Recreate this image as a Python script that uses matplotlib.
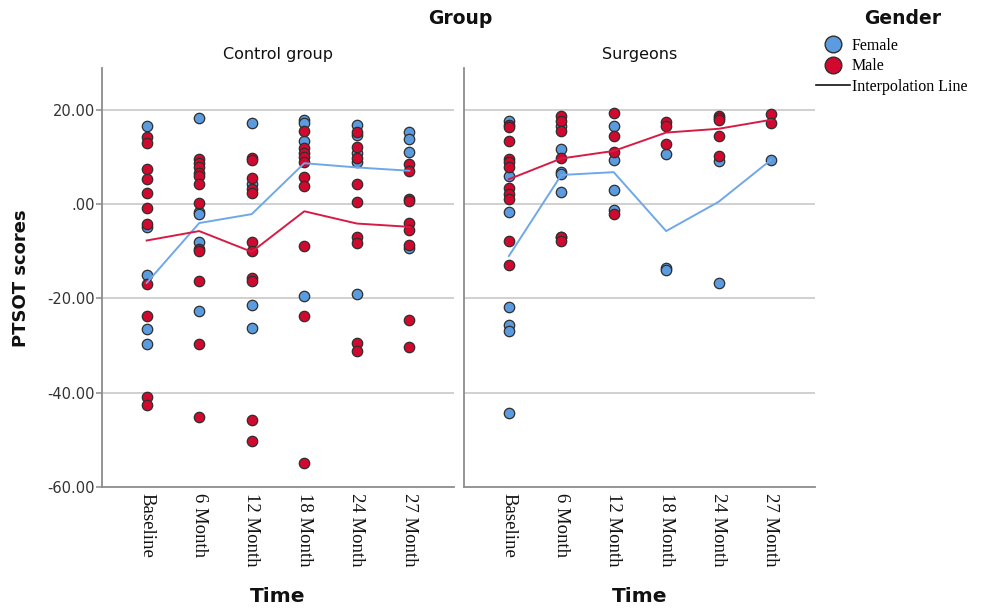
import matplotlib
matplotlib.use("Agg")
import matplotlib.pyplot as plt
from matplotlib.lines import Line2D

# ---- data -------------------------------------------------------------
time_points = ["Baseline", "6 Month", "12 Month", "18 Month", "24 Month", "27 Month"]
y_ticks = [20, 0, -20, -40, -60]
y_tick_labels = ["20.00", ".00", "-20.00", "-40.00", "-60.00"]

control_female = [
    [16.6, -4.8, -15.0, -26.5, -29.6],
    [18.2, -1.6, -2.1, -8.0, -22.7],
    [17.3, 4.3, -21.3, -26.3],
    [17.8, 17.3, 13.5, -19.4],
    [16.9, 14.7, 10.9, 9.0, -19.1],
    [15.4, 13.9, 11.0, -9.3],
]
control_male = [
    [14.2, 12.9, 7.4, 5.3, 2.4, -0.85, -4.3, -16.9, -23.8, -40.8, -42.6],
    [9.6, 8.8, 7.8, 6.7, 6.0, 4.2, 0.3, -9.4, -9.9, -16.2, -29.6, -45.1],
    [9.8, 9.4, 5.5, 3.3, 2.3, -8.0, -10.0, -15.7, -16.2, -45.8, -50.3],
    [15.5, 12.0, 10.9, 10.1, 9.0, 5.8, 3.9, -8.9, -23.7, -54.9],
    [15.4, 12.1, 9.9, 4.2, 0.5, -7.0, -8.2, -29.4, -31.1],
    [8.5, 7.0, 1.0, 0.6, -4.0, -5.5, -8.7, -24.5, -30.4],
]
surgeons_female = [
    [17.7, 6.0, -1.7, -21.8, -25.7, -26.8, -44.2],
    [16.6, 11.8, 6.9, 6.4, 2.6, -7.0],
    [16.5, 9.4, 3.1, -1.3],
    [10.7, -13.5, -14.0],
    [9.2, -16.7],
    [9.4],
]
surgeons_male = [
    [16.8, 16.4, 13.5, 9.6, 8.9, 7.8, 3.5, 2.1, 1.1, -7.7, -12.8],
    [18.7, 17.7, 15.5, 9.7, -7.0, -7.7],
    [19.3, 14.5, 11.0, -2.1],
    [17.5, 16.5, 12.7],
    [18.7, 18.2, 17.9, 14.5, 10.3],
    [19.1, 17.3],
]

# interpolation lines (group means per time point)
control_female_line = [-16.7, -4.0, -2.1, 8.7, 7.8, 7.1]
control_male_line = [-7.7, -5.7, -10.1, -1.5, -4.1, -4.8]
surgeons_female_line = [-11.0, 6.2, 6.8, -5.7, 0.5, 9.4]
surgeons_male_line = [5.3, 9.7, 11.3, 15.2, 16.0, 17.9]

# ---- styling ----------------------------------------------------------
BLUE = "#5B9BDF"
RED = "#D2092F"
BLUE_LINE = "#6FA8E8"
RED_LINE = "#D81B45"
EDGE = "#2E2E2E"
SPINE = "#8C8C8C"
GRID = "#C8C8C8"
SERIF = ["Liberation Serif", "DejaVu Serif"]

fig = plt.figure(figsize=(9.83, 6.10), dpi=100)
bottom = 1 - 487 / 610
height = (487 - 68) / 610
ax_left = fig.add_axes([102 / 983, bottom, 351.5 / 983, height])
ax_right = fig.add_axes([464.3 / 983, bottom, 350.7 / 983, height])

panels = [
    (ax_left, "Control group", control_female, control_male,
     control_female_line, control_male_line),
    (ax_right, "Surgeons", surgeons_female, surgeons_male,
     surgeons_female_line, surgeons_male_line),
]

xs = list(range(len(time_points)))

for ax, title, fem, mal, fem_line, mal_line in panels:
    for i, vals in enumerate(fem):
        ax.plot([i] * len(vals), vals, "o", ms=7.5, mfc=BLUE, mec=EDGE,
                mew=0.9, zorder=3)
    for i, vals in enumerate(mal):
        ax.plot([i] * len(vals), vals, "o", ms=7.5, mfc=RED, mec=EDGE,
                mew=0.9, zorder=4)
    ax.plot(xs, fem_line, color=BLUE_LINE, lw=1.4, zorder=5)
    ax.plot(xs, mal_line, color=RED_LINE, lw=1.4, zorder=5)

    ax.set_xlim(-0.85, 5.84)
    ax.set_ylim(-60, 28.9)
    ax.set_yticks(y_ticks)
    ax.set_xticks(xs)
    ax.set_xticklabels(time_points, rotation=-90, family=SERIF, fontsize=13.5,
                       color="#111111", va="top", ha="center")
    ax.tick_params(axis="x", length=0, pad=4)
    for y in y_ticks[:-1]:
        ax.axhline(y, color=GRID, lw=1.2, zorder=1)

    for s in ("top", "right"):
        ax.spines[s].set_visible(False)
    for s in ("left", "bottom"):
        ax.spines[s].set_color(SPINE)
        ax.spines[s].set_linewidth(1.3)

    ax.text(0.5, 1 + 14 / 419, title, transform=ax.transAxes, ha="center",
            va="center", fontsize=11.5, color="#111111")
    ax.text(0.5, -110 / 419, "Time", transform=ax.transAxes, ha="center",
            va="center", fontsize=14.5, fontweight="bold", color="#111111")

ax_left.set_yticklabels(y_tick_labels, fontsize=10.5, color="#333333")
ax_left.tick_params(axis="y", length=4, width=1.1, color=SPINE, pad=1)
ax_right.set_yticklabels([])
ax_right.tick_params(axis="y", length=0)

fig.text(21 / 983, 1 - 278.5 / 610, "PTSOT scores", rotation=90, ha="center",
         va="center", fontsize=13, fontweight="bold", color="#111111")
fig.text(460 / 983, 1 - 18 / 610, "Group", ha="center", va="center",
         fontsize=13.5, fontweight="bold", color="#111111")
fig.text(903 / 983, 1 - 18 / 610, "Gender", ha="center", va="center",
         fontsize=13.5, fontweight="bold", color="#111111")

handles = [
    Line2D([], [], ls="none", marker="o", ms=12, mfc=BLUE, mec=EDGE, mew=1.0),
    Line2D([], [], ls="none", marker="o", ms=12, mfc=RED, mec=EDGE, mew=1.0),
    Line2D([], [], color="#111111", lw=1.2),
]
leg = fig.legend(handles, ["Female", "Male", "Interpolation Line"],
                 loc="upper left",
                 bbox_to_anchor=(816 / 983, 1 - 38 / 610), frameon=False,
                 prop={"family": SERIF, "size": 11.5},
                 labelspacing=0.28, handlelength=2.1, handletextpad=0.15,
                 borderaxespad=0, borderpad=0)

fig.savefig("out.png", dpi=100)
